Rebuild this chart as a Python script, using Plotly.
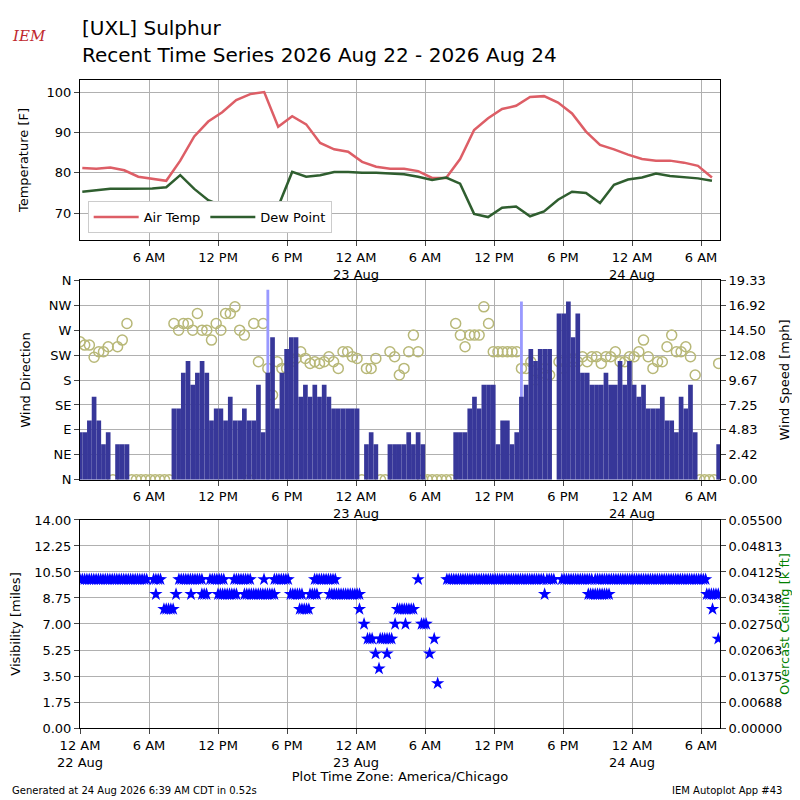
import plotly.graph_objects as go
import numpy as np
import pandas as pd

start = pd.Timestamp("2026-08-22 00:00")

# Temperature / dew point (F), roughly every 73 minutes
temp = [81.2, 81, 81.3, 80.6, 79, 78.5, 78, 83, 89, 92.7, 95, 98, 99.5, 100, 91.4, 94,
        92, 87.4, 85.8, 85.2, 82.7, 81.5, 81, 81, 80.4, 78.7, 78.7, 83.4, 90.6, 93.5, 95.8,
        96.6, 98.8, 99, 97.4, 94.7, 90.2, 86.9, 85.8, 84.5, 83.4, 83, 83, 82.5, 81.7, 78.8]
dewp = [75.3, 75.6, 76, 76, 76, 76.1, 76.4, 79.4, 76, 73.2, 71.8, 71.6, 72, 72.4, 71.6, 80.2,
        79, 79.4, 80.2, 80.2, 80, 80, 79.8, 79.6, 79, 78.2, 78.8, 77.3, 69.8, 69, 71.3,
        71.6, 69.2, 70.4, 73.3, 75.3, 75, 72.5, 77, 78.3, 78.8, 79.8, 79.2, 78.9, 78.6, 78]
t_times = [start + pd.Timedelta(minutes=12 + 73 * i) for i in range(len(temp))]

# Wind, 137 obs (kt) and direction (deg)
sknt = [4, 4, 5, 7, 5, 3, 4, 0, 3, 3, 3, 0, 0, 0, 0, 0, 0, 0, 0, 0,
        6, 6, 9, 10, 8, 9, 10, 9, 5, 6, 6, 5, 7, 5, 5, 6, 5, 5, 8, 4,
        9, 12, 6, 9, 11, 12, 12, 7, 8, 7, 8, 7, 8, 7, 6, 6, 6, 6, 6, 6,
        0, 3, 4, 3, 0, 0, 3, 3, 3, 3, 4, 3, 4, 3, 0, 0, 0, 0, 0, 0,
        4, 4, 4, 6, 7, 6, 8, 8, 8, 3, 5, 5, 3, 4, 7, 8, 11, 10, 11, 11,
        11, 0, 14, 14, 15, 12, 14, 9, 9, 8, 8, 8, 9, 8, 8, 10, 8, 10, 8, 7,
        8, 6, 6, 6, 7, 5, 5, 4, 7, 6, 8, 4, 0, 0, 0, 0, 3]
drct = [249, 243, 243, 221, 231, 231, 240, 0, 240, 252, 282, 0, 0, 0, 0, 0, 0, 0, 0, 0,
        282, 270, 282, 282, 270, 300, 270, 270, 252, 282, 270, 300, 300, 312, 270, 261, 0, 282, 213, 282,
        201, 153, 213, 201, 201, 213, 219, 231, 219, 210, 213, 210, 213, 222, 213, 201, 231, 231, 222, 219,
        0, 201, 201, 219, 0, 0, 231, 222, 189, 201, 231, 261, 231, 0, 0, 0, 0, 0, 0, 0,
        282, 261, 240, 261, 261, 261, 312, 282, 231, 231, 231, 231, 231, 231, 201, 201, 213, 180, 192, 201,
        189, None, 213, 201, 213, 219, 213, 222, 213, 222, 222, 210, 222, 222, 231, 213, 213, 222, 222, 231,
        252, 222, 201, 213, 213, 240, 261, 231, 231, 240, 222, 189, 0, 0, 0, 0, 210]
gust = [None] * len(sknt)
gust[40] = 16
gust[94] = 15
w_times = pd.date_range(start, periods=len(sknt), freq="1470s")
smph = [k * 1.1508 for k in sknt]
gmph = [g * 1.1508 if g else None for g in gust]

# Visibility segments: (start hour, end hour, miles)
vis_segments = [(0.0, 5.85, 10), (6.4, 7.0, 10), (6.6, 6.6, 9), (7.3, 8.1, 8), (8.35, 8.35, 9),
                (8.6, 10.6, 10), (9.65, 9.65, 9), (10.6, 11.1, 9), (11.3, 12.6, 10), (12.0, 13.6, 9),
                (13.4, 14.9, 10), (14.3, 16.9, 9), (16.0, 16.0, 10), (16.9, 18.1, 10), (18.3, 19.4, 9),
                (19.1, 20.0, 8), (20.0, 20.6, 9), (20.4, 22.3, 10), (21.7, 24.3, 9), (24.3, 24.3, 8),
                (24.7, 24.7, 7), (25.0, 25.4, 6), (25.7, 25.7, 5), (26.0, 26.0, 4), (26.1, 27.1, 6),
                (26.7, 26.7, 5), (27.4, 27.4, 7), (28.3, 28.3, 7), (27.6, 29.1, 8), (29.4, 29.4, 10),
                (29.7, 30.1, 7), (30.8, 30.8, 6), (30.4, 30.4, 5), (31.1, 31.1, 3), (31.9, 40.3, 10),
                (40.4, 40.4, 9), (40.6, 41.3, 10), (41.9, 44.6, 10), (44.2, 46.1, 9), (44.8, 54.5, 10),
                (54.5, 55.5, 9), (55.0, 55.0, 8), (55.5, 55.5, 6)]
v_times, v_vals = [], []
for h0, h1, v in vis_segments:
    for h in np.arange(h0, h1 + 0.01, 0.2):
        v_times.append(start + pd.Timedelta(hours=float(h)))
        v_vals.append(v)

fig = go.Figure()

fig.add_trace(go.Scatter(x=t_times, y=temp, mode="lines", name="Air Temp",
                         line=dict(color="#dd5e66", width=2.5), xaxis="x", yaxis="y"))
fig.add_trace(go.Scatter(x=t_times, y=dewp, mode="lines", name="Dew Point",
                         line=dict(color="#2f5e2f", width=2.5), xaxis="x", yaxis="y"))

fig.add_trace(go.Bar(x=w_times, y=gmph, marker=dict(color="#9999ff", line_width=0),
                     width=1470000 * 0.6, showlegend=False, xaxis="x2", yaxis="y3"))
fig.add_trace(go.Bar(x=w_times, y=smph, marker=dict(color="#373799", line_width=0),
                     width=1470000, showlegend=False, xaxis="x2", yaxis="y3"))
fig.add_trace(go.Scatter(x=w_times, y=drct, mode="markers", showlegend=False,
                         marker=dict(symbol="circle-open", size=10, color="#b8b878",
                                     line=dict(width=1.5)),
                         xaxis="x2", yaxis="y2"))

fig.add_trace(go.Scatter(x=v_times, y=v_vals, mode="markers", showlegend=False,
                         marker=dict(symbol="star", size=10, color="blue"),
                         xaxis="x3", yaxis="y4"))
# keep the empty ceiling axis visible
fig.add_trace(go.Scatter(x=[None], y=[None], xaxis="x3", yaxis="y5", showlegend=False))

rng = [start, start + pd.Timedelta(hours=55.65)]
tickvals = [start + pd.Timedelta(hours=h) for h in range(0, 55, 6)]
ticktext = ["12 AM<br>22 Aug", "6 AM", "12 PM", "6 PM", "12 AM<br>23 Aug",
            "6 AM", "12 PM", "6 PM", "12 AM<br>24 Aug", "6 AM"]
xcommon = dict(range=rng, tickvals=tickvals, ticktext=ticktext, showgrid=True, automargin=False,
               gridcolor="#b0b0b0", showline=True, linecolor="black", mirror=True,
               ticks="outside", tickfont=dict(size=13), zeroline=False)
ycommon = dict(showgrid=True, gridcolor="#b0b0b0", showline=True, linecolor="black", automargin=False,
               ticks="outside", tickfont=dict(size=13), zeroline=False, title_font=dict(size=13))
speed_ticks = ["0.00", "2.42", "4.83", "7.25", "9.67", "12.08", "14.50", "16.92", "19.33"]

fig.update_layout(
    xaxis=dict(xcommon, anchor="y", domain=[0, 1], tickvals=tickvals[1:], ticktext=ticktext[1:]),
    xaxis2=dict(xcommon, anchor="y2", domain=[0, 1], tickvals=tickvals[1:], ticktext=ticktext[1:]),
    xaxis3=dict(xcommon, anchor="y4", domain=[0, 1],
                title=dict(text="Plot Time Zone: America/Chicago", font=dict(size=13), standoff=2)),
    yaxis=dict(ycommon, domain=[0.753, 1], range=[63.3, 103], tickvals=[70, 80, 90, 100],
               mirror=True, title_text="Temperature [F]"),
    yaxis2=dict(ycommon, domain=[0.383, 0.691], range=[0, 360], tickvals=list(range(0, 361, 45)),
                ticktext=["N", "NE", "E", "SE", "S", "SW", "W", "NW", "N"], anchor="x2",
                title_text="Wind Direction"),
    yaxis3=dict(ycommon, overlaying="y2", side="right", range=[0, 19.33], anchor="x2",
                tickvals=[19.33 * i / 8 for i in range(9)], ticktext=speed_ticks, showgrid=False,
                title_text="Wind Speed [mph]"),
    yaxis4=dict(ycommon, domain=[0, 0.321], range=[0, 14], tickvals=[1.75 * i for i in range(9)],
                ticktext=["%.2f" % (1.75 * i) for i in range(9)], anchor="x3",
                title_text="Visibility [miles]"),
    yaxis5=dict(ycommon, overlaying="y4", side="right", range=[0, 0.055], anchor="x3",
                tickvals=[0.055 * i / 8 for i in range(9)],
                ticktext=["%.5f" % (0.055 * i / 8) for i in range(9)], showgrid=False,
                title=dict(text="Overcast Ceiling [k ft]", font=dict(color="green", size=13))),
    barmode="overlay",
    legend=dict(x=0.012, y=0.764, xanchor="left", yanchor="bottom", orientation="h",
                bordercolor="#cccccc", borderwidth=1, font_size=13, bgcolor="white",
                itemwidth=45),
    margin=dict(l=72, r=72, t=72, b=72, autoexpand=False),
    font=dict(family="DejaVu Sans", color="black"),
    paper_bgcolor="white",
    plot_bgcolor="white",
    width=784, height=792,
)

annotations = [
    dict(xref="paper", yref="paper", x=0, y=1.081, xanchor="left", yanchor="middle",
         text="[UXL] Sulphur", font=dict(size=20), showarrow=False),
    dict(xref="paper", yref="paper", x=0, y=1.038, xanchor="left", yanchor="middle",
         text="Recent Time Series 2026 Aug 22 - 2026 Aug 24", font=dict(size=20), showarrow=False),
    dict(xref="paper", yref="paper", x=-0.11, y=1.068, xanchor="left", yanchor="middle",
         text="<i>IEM</i>", font=dict(size=15, color="#c0282d", family="DejaVu Serif"), showarrow=False),
    dict(xref="paper", yref="paper", x=-0.11, y=-0.097, xanchor="left", yanchor="middle",
         text="Generated at 24 Aug 2026 6:39 AM CDT in 0.52s", font=dict(size=10), showarrow=False),
    dict(xref="paper", yref="paper", x=1.1, y=-0.097, xanchor="right", yanchor="middle",
         text="IEM Autoplot App #43", font=dict(size=10), showarrow=False),
]
fig.update_layout(annotations=annotations)

fig.write_html("out.html")
